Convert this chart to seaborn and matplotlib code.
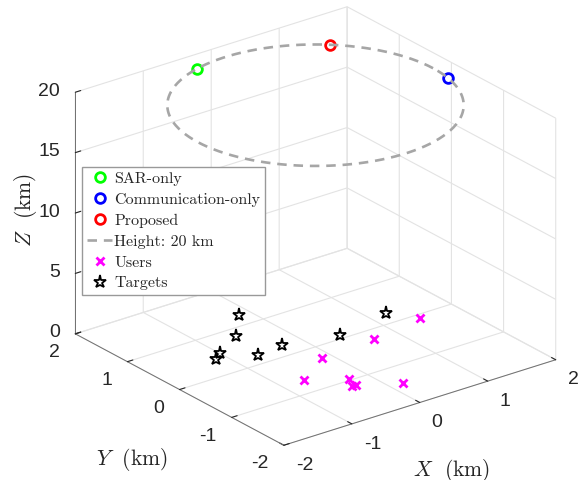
import numpy as np
import matplotlib
matplotlib.use('Agg')
import matplotlib.pyplot as plt
import seaborn as sns
from mpl_toolkits.mplot3d import proj3d

# ---------------- data ----------------
sar_x = [-0.46]
sar_y = [1.67]
comm_x = [1.70]
comm_y = [-0.33]
prop_x = [1.17]
prop_y = [1.25]
uav_height = 20
traj_radius = 1.73

user_x = [1.475, 0.67, -0.134, -0.673, -0.256, -0.346, -0.292, 0.186]
user_y = [-0.09, -0.252, -0.298, -0.661, -0.977, -1.148, -1.153, -1.434]
target_x = [-0.145, -0.548, -1.0, -1.127, -0.683, -0.283, 0.429, 1.226]
target_y = [1.27, 0.802, 0.528, 0.444, 0.215, 0.268, 0.085, 0.255]

x_ticks = [-2, -1, 0, 1, 2]
y_ticks = [-2, -1, 0, 1, 2]
z_ticks = [0, 5, 10, 15, 20]
x_tick_labels = ['-2', '-1', '0', '1', '2']
y_tick_labels = ['-2', '-1', '0', '1', '2']
z_tick_labels = ['0', '5', '10', '15', '20']

labels = ['SAR-only', 'Communication-only', 'Proposed', 'Height: 20 km', 'Users', 'Targets']

# ---------------- style ----------------
sns.set_style('white')
plt.rcParams['font.family'] = ['Liberation Sans', 'DejaVu Sans']
plt.rcParams['axes.unicode_minus'] = False
plt.rcParams['mathtext.fontset'] = 'cm'
plt.rcParams['grid.color'] = '#e3e3e3'
plt.rcParams['grid.linewidth'] = 0.8

W, H = 581, 480
fig = plt.figure(figsize=(W / 100, H / 100), dpi=100)
ax = fig.add_subplot(projection='3d')
ax.set_proj_type('ortho')
ax.view_init(elev=24.2, azim=-127.5)
ax.set_box_aspect((1, 1, 0.773))

gridc = '#e3e3e3'
h_sar, = ax.plot(sar_x, sar_y, [uav_height], 'o', mfc='none', mec=(0, 1, 0), mew=2, ms=7, label=labels[0])
h_comm, = ax.plot(comm_x, comm_y, [uav_height], 'o', mfc='none', mec=(0, 0, 1), mew=2, ms=7, label=labels[1])
h_prop, = ax.plot(prop_x, prop_y, [uav_height], 'o', mfc='none', mec=(1, 0, 0), mew=2, ms=7, label=labels[2])
theta = np.linspace(0, 2 * np.pi, 361)
h_traj, = ax.plot(traj_radius * np.cos(theta), traj_radius * np.sin(theta), np.full_like(theta, uav_height),
                  ls=(0, (3.6, 2.6)), lw=1.9, color=(0.65, 0.65, 0.65), label=labels[3])
h_users, = ax.plot(user_x, user_y, np.zeros(len(user_x)), 'x', color=(1, 0, 1), mew=2, ms=6, label=labels[4])
h_tg, = ax.plot(target_x, target_y, np.zeros(len(target_x)), '*', mfc='none', mec='black', mew=1.3, ms=9.5, label=labels[5])

ax.set_xlim(-2, 2)
ax.set_ylim(-2, 2)
ax.set_zlim(0, 20)
ax.set_xticks(x_ticks, x_tick_labels)
ax.set_yticks(y_ticks, y_tick_labels)
ax.set_zticks(z_ticks, z_tick_labels)
ax.tick_params(labelsize=14, colors='#262626')
ax.zaxis.set_tick_params(pad=-1.5)

for axis in (ax.xaxis, ax.yaxis, ax.zaxis):
    axis.set_pane_color((1, 1, 1, 0))
    axis.pane.set_edgecolor(gridc)
    axis.line.set_color('#707070')
    axis.line.set_linewidth(0.7)
    axis._axinfo['grid'].update(color=gridc, linewidth=0.8)
    axis._axinfo['tick']['inward_factor'] = 0.0
    axis._axinfo['tick']['outward_factor'] = 0.25

# tick label alignment like the reference
for axis, ha, va in ((ax.xaxis, 'left', 'center'), (ax.yaxis, 'right', 'center'), (ax.zaxis, 'right', 'center')):
    for t in axis.get_major_ticks():
        t.label1.set_ha(ha)
        t.label1.set_va(va)

ax.xaxis.set_rotate_label(False)
ax.yaxis.set_rotate_label(False)
ax.zaxis.set_rotate_label(False)
ax.xaxis._axinfo['label']['va'] = 'top'
ax.yaxis._axinfo['label']['va'] = 'top'
ax.set_xlabel(r'$X\ $ (km)', fontfamily='cmr10', fontsize=15.5, rotation=0, labelpad=10)
ax.set_ylabel(r'$Y\ $ (km)', fontfamily='cmr10', fontsize=15.5, rotation=0, labelpad=14)
ax.set_zlabel(r'$Z\ $ (km)', fontfamily='cmr10', fontsize=15.5, rotation=90, labelpad=0)

fig.legend(handles=[h_sar, h_comm, h_prop, h_traj, h_users, h_tg], labels=labels,
           loc='upper left', bbox_to_anchor=(82 / W, 1 - 167 / H), bbox_transform=fig.transFigure,
           prop={'family': 'cmr10', 'size': 11.5}, frameon=True, fancybox=False, edgecolor='#999999',
           framealpha=1, borderaxespad=0, borderpad=0.3, handlelength=1.6, handletextpad=0.12,
           labelspacing=0.42)

# ---------------- fit box to target pixel bbox ----------------
tx0, tx1, ty0, ty1 = 75, 556, H - 445, H - 7

def corners_px():
    fig.canvas.draw()
    M = ax.get_proj()
    xs = [-2, -2, 2, 2, -2, -2, 2, 2]
    ys = [-2, 2, -2, 2, -2, 2, -2, 2]
    zs = [0, 0, 0, 0, 20, 20, 20, 20]
    px, py, _ = proj3d.proj_transform(np.array(xs, float), np.array(ys, float), np.array(zs, float), M)
    return ax.transData.transform(np.column_stack([px, py]))

for _ in range(3):
    d = corners_px()
    pos = ax.get_position()
    ax0, ay0, aw, ah = pos.x0 * W, pos.y0 * H, pos.width * W, pos.height * H
    ul = (d[:, 0].min() - ax0) / aw
    ur = (d[:, 0].max() - ax0) / aw
    vb = (d[:, 1].min() - ay0) / ah
    vt = (d[:, 1].max() - ay0) / ah
    S = 0.5 * ((tx1 - tx0) / (ur - ul) + (ty1 - ty0) / (vt - vb))
    X0 = 0.5 * ((tx0 - S * ul) + (tx1 - S * ur))
    Y0 = 0.5 * ((ty0 - S * vb) + (ty1 - S * vt))
    ax.set_position([X0 / W, Y0 / H, S / W, S / H])

fig.savefig('out.png', dpi=100)
